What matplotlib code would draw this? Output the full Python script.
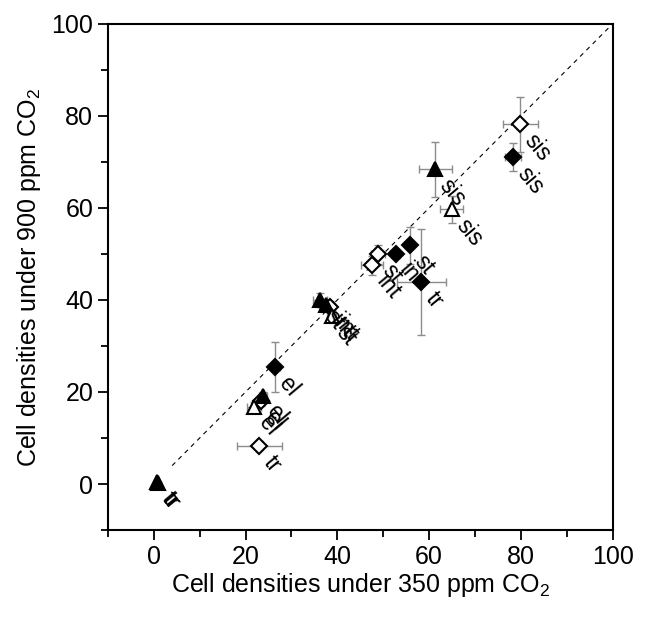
import matplotlib
matplotlib.use("Agg")
import matplotlib.pyplot as plt
from matplotlib.ticker import MultipleLocator

plt.rcParams['font.family'] = ['Liberation Sans', 'DejaVu Sans']
plt.rcParams['mathtext.fontset'] = 'custom'
plt.rcParams['mathtext.rm'] = 'Liberation Sans'
plt.rcParams['mathtext.default'] = 'regular'

# filled diamonds
fd_x = [78.3, 52.7, 55.8, 58.3, 26.4]
fd_y = [71.1, 50.1, 51.9, 43.9, 25.4]
fd_xerr = [1.8, 1.0, 1.0, 5.3, 1.0]
fd_yerr = [3.0, 1.0, 4.0, 11.6, 5.5]
fd_lab = ['sis', 'in', 'st', 'tr', 'el']

# open diamonds
od_x = [79.9, 48.9, 47.5, 38.4, 23.3, 23.0]
od_y = [78.2, 49.9, 47.5, 38.5, 18.0, 8.3]
od_xerr = [3.8, 1.5, 2.4, 1.2, 1.0, 4.9]
od_yerr = [6.0, 2.0, 2.0, 1.2, 1.0, 1.0]
od_lab = ['sis', 'st', 'int', 'int', 'el', 'tr']

# filled triangles
ft_x = [61.4, 36.2, 37.6, 23.8, 0.7, 0.9]
ft_y = [68.4, 40.0, 39.0, 19.2, 0.4, 0.2]
ft_xerr = [3.5, 1.5, 1.5, 0.8, 0.3, 0.3]
ft_yerr = [6.0, 1.5, 1.0, 0.8, 0.3, 0.3]
ft_lab = ['sis', 'st', 'int', 'el', 'tr', 'tr']

# open triangles
ot_x = [64.9, 38.8, 21.9]
ot_y = [59.7, 36.5, 16.8]
ot_xerr = [2.5, 1.0, 1.5]
ot_yerr = [3.0, 1.0, 1.0]
ot_lab = ['sis', 'st', 'el']

fig = plt.figure(figsize=(6.58, 6.21), dpi=100)
ax = fig.add_axes([0.164, 0.1465, 0.767, 0.815])

ax.plot([4, 100], [4, 100], color='black', lw=0.8, dashes=(4, 4))

groups = [
    (fd_x, fd_y, fd_xerr, fd_yerr, fd_lab, 'D', 'black', 8.5),
    (od_x, od_y, od_xerr, od_yerr, od_lab, 'D', 'white', 8.5),
    (ft_x, ft_y, ft_xerr, ft_yerr, ft_lab, '^', 'black', 10),
    (ot_x, ot_y, ot_xerr, ot_yerr, ot_lab, '^', 'white', 10),
]

for x, y, xe, ye, lab, mk, fc, ms in groups:
    ax.errorbar(x, y, xerr=xe, yerr=ye, fmt='none', ecolor='0.55',
                elinewidth=1, capsize=3, capthick=1, zorder=2)
    ax.plot(x, y, linestyle='none', marker=mk, ms=ms, mfc=fc, mec='black',
            mew=1.5, zorder=3)
    for xi, yi, t in zip(x, y, lab):
        ax.annotate(t, xy=(xi, yi), xytext=(6, -9), textcoords='offset points',
                    rotation=-50, rotation_mode='anchor', ha='left',
                    va='center', fontsize=16.5, zorder=4)

ax.set_xlim(-10, 100)
ax.set_ylim(-10, 100)
ax.xaxis.set_major_locator(MultipleLocator(20))
ax.xaxis.set_minor_locator(MultipleLocator(10))
ax.yaxis.set_major_locator(MultipleLocator(20))
ax.yaxis.set_minor_locator(MultipleLocator(10))
ax.tick_params(which='both', direction='out', labelsize=18, width=1.3)
ax.tick_params(which='major', length=7)
ax.tick_params(which='minor', length=5)
for s in ax.spines.values():
    s.set_linewidth(1.5)

ax.set_xlabel('Cell densities under 350 ppm CO$_2$', fontsize=18, labelpad=2)
ax.set_ylabel('Cell densities under 900 ppm CO$_2$', fontsize=18, labelpad=6)

fig.savefig('out.png', dpi=100)
